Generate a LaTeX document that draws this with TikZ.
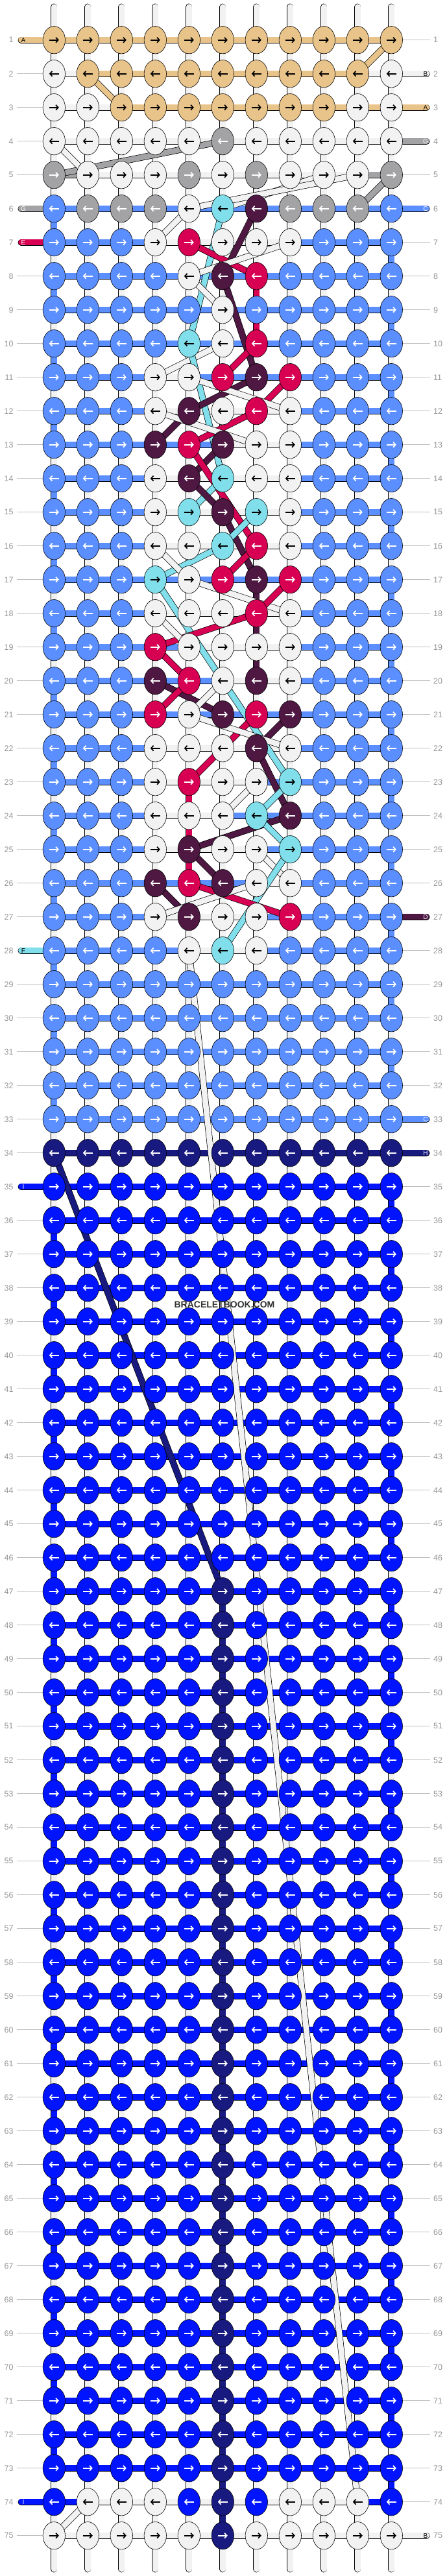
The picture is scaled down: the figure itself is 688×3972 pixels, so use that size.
\documentclass[tikz,border=0pt]{standalone}
\usepackage{fontspec}
\setmainfont{Liberation Sans}
\usetikzlibrary{arrows.meta,shapes.geometric}

\definecolor{cT}{RGB}{233,196,138}
\definecolor{cW}{RGB}{242,242,242}
\definecolor{cG}{RGB}{163,163,166}
\definecolor{cL}{RGB}{91,143,255}
\definecolor{cK}{RGB}{128,223,235}
\definecolor{cP}{RGB}{78,24,66}
\definecolor{cR}{RGB}{216,0,82}
\definecolor{cN}{RGB}{24,26,128}
\definecolor{cU}{RGB}{0,20,255}
\definecolor{numgray}{RGB}{150,150,150}
\definecolor{guidegray}{RGB}{190,190,190}
\definecolor{markgray}{RGB}{50,50,50}

\pgfdeclarelayer{bars}
\pgfdeclarelayer{threads}
\pgfsetlayers{bars,threads,main}

\tikzset{
  knot/.style={ellipse,draw=black,line width=0.6pt,minimum width=34.4pt,minimum height=42.4pt,inner sep=0pt},
  knotarrow/.style={line width=1.7pt,-{Straight Barb[length=3.6pt,width=8pt]}},
  thread/.style={draw=black,line width=0.7pt,double=#1,double distance=8.6pt},
  guide/.style={draw=guidegray,line width=1pt},
  num/.style={font=\fontsize{12.5}{12.5}\selectfont,text=numgray,inner sep=2.5pt},
  tag/.style={font=\fontsize{10}{10}\selectfont,inner sep=0pt},
  aT/.style={black}, aW/.style={black}, aK/.style={black},
  aG/.style={white}, aL/.style={white}, aP/.style={white},
  aR/.style={white}, aN/.style={white}, aU/.style={white}
}

% une rangee : #1 numero, #2 couleurs des noeuds, #3 couleurs des fils horizontaux
\newcommand{\knotrow}[3]{%
  \foreach \c [count=\j] in {#2}{%
    \node[knot,fill=c\c] (k-#1-\j) at ({31.3+52*\j},{9.7+52*#1}) {};
    \ifodd#1\relax
      \draw[knotarrow,a\c] ([xshift=-7.5pt]k-#1-\j.center) -- ([xshift=7.5pt]k-#1-\j.center);
    \else
      \draw[knotarrow,a\c] ([xshift=7.5pt]k-#1-\j.center) -- ([xshift=-7.5pt]k-#1-\j.center);
    \fi
  }%
  \begin{pgfonlayer}{bars}
    \foreach \c [count=\j] in {#3}{%
      \pgfmathtruncatemacro\jn{\j+1}%
      \draw[thread=c\c] (k-#1-\j.center) -- (k-#1-\jn.center);
    }%
  \end{pgfonlayer}%
}

\begin{document}
\begin{tikzpicture}[x=1pt,y=-1pt]
  \useasboundingbox (0,0) rectangle (688,3972);

  % Noeuds, haut du motif
  \knotrow{1}{T,T,T,T,T,T,T,T,T,T,T}{T,T,T,T,T,T,T,T,T,T}
  \knotrow{2}{W,T,T,T,T,T,T,T,T,T,W}{W,T,T,T,T,T,T,T,T,W}
  \knotrow{3}{W,W,T,T,T,T,T,T,T,W,W}{W,W,T,T,T,T,T,T,T,T}
  \knotrow{4}{W,W,W,W,W,G,W,W,W,W,W}{W,W,W,W,W,W,W,W,W,W}
  \knotrow{5}{G,W,W,W,G,W,G,W,W,W,G}{G,W,W,W,W,W,W,W,W,G}
  \knotrow{6}{L,G,G,G,W,K,P,G,G,G,L}{L,L,L,L,L,L,L,L,L,L}
  \knotrow{7}{L,L,L,W,R,W,W,W,L,L,L}{L,L,L,W,W,W,W,L,L,L}
  \knotrow{8}{L,L,L,L,W,P,R,L,L,L,L}{L,L,L,L,L,L,L,L,L,L}
  \knotrow{9}{L,L,L,L,L,W,L,L,L,L,L}{L,L,L,L,L,L,L,L,L,L}
  \knotrow{10}{L,L,L,L,K,W,R,L,L,L,L}{L,L,L,L,L,L,L,L,L,L}
  \knotrow{11}{L,L,L,W,W,R,P,R,L,L,L}{L,L,L,W,L,L,L,L,L,L}
  \knotrow{12}{L,L,L,W,P,W,R,W,L,L,L}{L,L,L,W,W,W,W,L,L,L}
  \knotrow{13}{L,L,L,P,R,P,W,W,L,L,L}{L,L,L,L,L,W,W,L,L,L}
  \knotrow{14}{L,L,L,W,P,K,W,W,L,L,L}{L,L,L,W,W,W,W,L,L,L}
  \knotrow{15}{L,L,L,W,K,P,K,W,L,L,L}{L,L,L,W,W,W,W,L,L,L}
  \knotrow{16}{L,L,L,W,W,K,R,W,L,L,L}{L,L,L,W,W,W,W,L,L,L}
  \knotrow{17}{L,L,L,K,W,R,P,R,L,L,L}{L,L,L,L,L,L,L,L,L,L}
  \knotrow{18}{L,L,L,W,W,W,R,W,L,L,L}{L,L,L,W,W,W,W,L,L,L}
  \knotrow{19}{L,L,L,R,W,W,W,W,L,L,L}{L,L,L,L,W,W,W,L,L,L}
  \knotrow{20}{L,L,L,P,R,W,P,W,L,L,L}{L,L,L,L,L,W,W,L,L,L}
  \knotrow{21}{L,L,L,R,W,P,R,P,L,L,L}{L,L,L,L,L,L,L,L,L,L}
  \knotrow{22}{L,L,L,W,W,W,P,W,L,L,L}{L,L,L,W,W,W,W,L,L,L}
  \knotrow{23}{L,L,L,W,R,W,W,K,L,L,L}{L,L,L,W,W,W,L,L,L,L}
  \knotrow{24}{L,L,L,W,W,W,K,P,L,L,L}{L,L,L,W,W,L,L,L,L,L}
  \knotrow{25}{L,L,L,W,P,W,W,K,L,L,L}{L,L,L,W,W,W,L,L,L,L}
  \knotrow{26}{L,L,L,P,R,P,W,W,L,L,L}{L,L,L,L,L,L,W,L,L,L}
  \knotrow{27}{L,L,L,W,P,W,W,R,L,L,L}{L,L,L,W,W,W,L,L,L,L}
  \knotrow{28}{L,L,L,L,W,K,W,L,L,L,L}{L,L,L,L,W,W,L,L,L,L}

  % Noeuds, fond
  \foreach \r in {29,...,33}{
    \knotrow{\r}{L,L,L,L,L,L,L,L,L,L,L}{L,L,L,L,L,L,L,L,L,L}
  }
  \knotrow{34}{N,N,N,N,N,N,N,N,N,N,N}{N,N,N,N,N,N,N,N,N,N}
  \foreach \r in {35,...,46}{
    \knotrow{\r}{U,U,U,U,U,U,U,U,U,U,U}{U,U,U,U,U,U,U,U,U,U}
  }
  \foreach \r in {47,...,73}{
    \knotrow{\r}{U,U,U,U,U,N,U,U,U,U,U}{U,U,U,U,U,U,U,U,U,U}
  }
  \knotrow{74}{U,W,W,W,U,N,U,W,W,W,U}{U,W,W,W,W,W,W,W,W,U}
  \knotrow{75}{W,W,W,W,W,N,W,W,W,W,W}{W,W,W,W,W,W,W,W,W,W}

  \begin{pgfonlayer}{bars}
    % Fils verticaux
    \foreach \r [evaluate=\r as \rn using int(\r+1)] in {1,...,74}{
      \foreach \j in {1,...,11}{
        \draw[thread=cW] (k-\r-\j.center) -- (k-\rn-\j.center);
      }
    }
    \foreach \r [evaluate=\r as \rn using int(\r+1)] in {6,8,...,32}{
      \draw[thread=cL] (k-\r-1.center) -- (k-\rn-1.center);
    }
    \foreach \r [evaluate=\r as \rn using int(\r+1)] in {7,9,...,31}{
      \draw[thread=cL] (k-\r-11.center) -- (k-\rn-11.center);
    }
    \foreach \r [evaluate=\r as \rn using int(\r+1)] in {36,38,...,72}{
      \draw[thread=cU] (k-\r-1.center) -- (k-\rn-1.center);
    }
    \foreach \r [evaluate=\r as \rn using int(\r+1)] in {35,37,...,73}{
      \draw[thread=cU] (k-\r-11.center) -- (k-\rn-11.center);
    }
    \foreach \r [evaluate=\r as \rn using int(\r+1)] in {47,...,74}{
      \draw[thread=cN] (k-\r-6.center) -- (k-\rn-6.center);
    }
    \foreach \r/\j/\c [evaluate=\r as \rn using int(\r+1)] in {8/7/R,9/7/R,17/7/P,18/7/P,19/7/P,23/5/R,24/5/R,25/5/R}{
      \draw[thread=c\c] (k-\r-\j.center) -- (k-\rn-\j.center);
    }

    % Bouts libres en haut et en bas
    \foreach \j in {1,...,11}{
      \coordinate (top-\j) at ({31.3+52*\j},10.5);
      \coordinate (bot-\j) at ({31.3+52*\j},3961.5);
      \draw[thread=cW,line cap=round] (top-\j) -- (k-1-\j.center);
      \draw[thread=cW,line cap=round] (k-75-\j.center) -- (bot-\j);
    }

    % Fils qui entrent ou sortent
    \foreach \r/\c/\t in {1/T/A,6/G/G,7/R/E,28/K/F,35/U/I,74/U/I}{
      \coordinate (pin-\r) at (32.5,{9.7+52*\r});
      \draw[thread=c\c,line cap=round] (pin-\r) -- (k-\r-1.center);
      \node[tag,a\c] (tin-\r) at (36,{9.7+52*\r}) {\t};
    }
    \foreach \r/\c/\t in {2/W/B,3/T/A,4/G/G,6/L/C,27/P/D,33/L/C,34/N/H,75/W/B}{
      \coordinate (pout-\r) at (657.5,{9.7+52*\r});
      \draw[thread=c\c,line cap=round] (k-\r-11.center) -- (pout-\r);
      \node[tag,a\c] (tout-\r) at (656,{9.7+52*\r}) {\t};
    }
  \end{pgfonlayer}

  % Fils en diagonale
  \begin{pgfonlayer}{threads}
    \foreach \ra/\ca/\rb/\cb/\c in {
      1/11/2/10/T, 2/2/3/3/T, 4/6/5/1/G, 5/11/6/10/G,
      4/1/5/2/W, 5/9/6/6/W, 5/10/6/5/W, 6/5/7/4/W,
      6/6/10/5/K, 6/7/8/6/P, 7/5/8/7/R, 7/8/8/5/W,
      8/5/9/6/W, 8/6/11/7/P, 10/6/11/4/W, 10/7/11/6/R,
      10/5/14/6/K, 11/7/12/5/P, 11/8/12/7/R, 11/5/12/8/W,
      12/5/13/4/P, 12/7/13/5/R, 12/4/13/7/W, 13/6/14/5/P,
      13/5/16/7/R, 14/6/15/5/K, 14/5/15/6/P, 15/6/17/7/P,
      15/7/16/6/K, 16/6/17/4/K, 16/7/17/6/R, 16/4/17/5/W,
      17/5/18/8/W, 17/8/18/7/R, 17/4/23/8/K, 18/7/19/4/R,
      18/4/19/5/W, 19/4/20/5/R, 20/4/21/6/P, 20/5/21/4/R,
      20/6/21/5/W, 21/8/22/7/P, 21/7/23/5/R, 21/5/22/8/W,
      22/7/24/8/P, 23/7/24/6/W, 23/8/24/7/K, 24/8/25/5/P,
      24/7/25/8/K, 25/5/26/6/P, 25/7/26/8/W, 25/8/28/6/K,
      26/4/27/5/P, 26/5/27/8/R, 26/7/27/4/W,
      28/5/74/10/W, 34/1/47/6/N, 74/2/75/1/W}{
      \draw[thread=c\c] (k-\ra-\ca.center) -- (k-\rb-\cb.center);
    }
  \end{pgfonlayer}

  % Numeros des rangees
  \foreach \r in {1,...,75}{
    \node[num,anchor=east] (ln-\r) at (23.3,{9.7+52*\r}) {\r};
    \node[num,anchor=west] (rn-\r) at (665.5,{9.7+52*\r}) {\r};
  }
  \begin{pgfonlayer}{bars}
    \foreach \r in {2,...,5,8,9,...,27,29,30,...,34,36,37,...,73,75}{
      \draw[guide,shorten <=2.5pt] (ln-\r) -- (k-\r-1);
    }
    \foreach \r in {1,5,7,8,...,26,28,29,...,32,35,36,...,74}{
      \draw[guide,shorten >=2.5pt] (k-\r-11) -- (rn-\r);
    }
  \end{pgfonlayer}

  \node[font=\bfseries\fontsize{14}{14}\selectfont,text=markgray] (mark) at (346,2012) {BRACELETBOOK.COM};
\end{tikzpicture}
\end{document}
